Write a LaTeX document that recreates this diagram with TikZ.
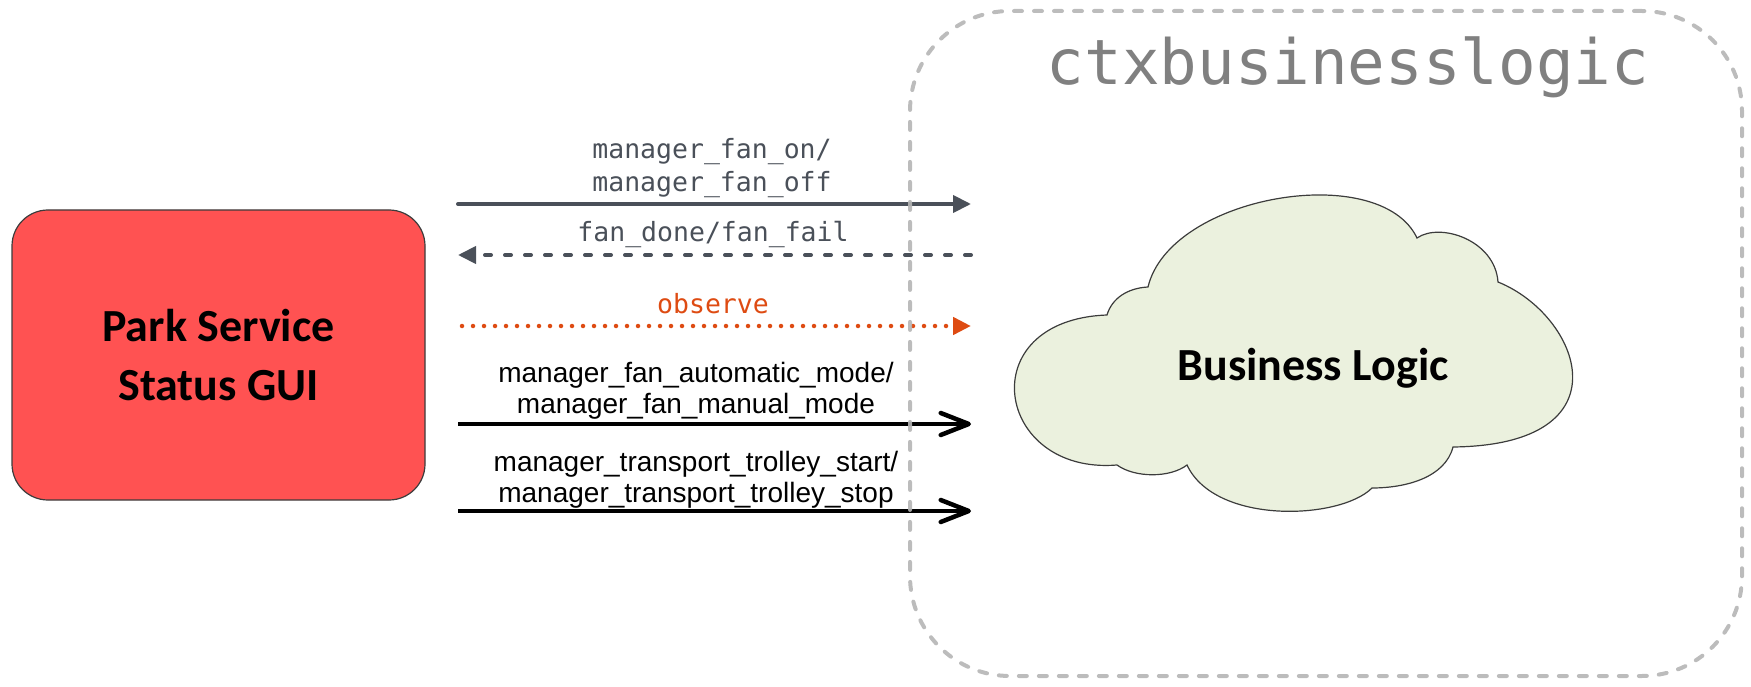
\documentclass[tikz,border=0pt]{standalone}
\usepackage{fontspec}
\setmainfont{Liberation Sans}
\newfontfamily\monofont{DejaVu Sans Mono}
\newfontfamily\calfont{Carlito}
\usetikzlibrary{arrows.meta}
\definecolor{arrgray}{HTML}{4A5059}
\definecolor{obsorange}{HTML}{DE4B12}
\definecolor{guired}{HTML}{FF5252}
\definecolor{cloudgreen}{HTML}{EBF1DE}
\definecolor{ctxgray}{HTML}{B5B5B5}
\definecolor{ctxtext}{HTML}{808080}
\definecolor{edgegray}{HTML}{3C3C3C}
\begin{document}
\begin{tikzpicture}[x=1pt,y=-1pt,
  guibox/.style={draw=edgegray, line width=1.2pt, fill=guired, rounded corners=36pt,
    minimum width=413pt, minimum height=290pt, inner sep=0pt, align=center,
    font=\calfont\bfseries\fontsize{46}{59}\selectfont},
  cloudshape/.style={draw=edgegray, line width=1.2pt, fill=cloudgreen},
  cloudtext/.style={anchor=base, inner sep=0pt, font=\calfont\bfseries\fontsize{46}{55}\selectfont},
  ctxbox/.style={draw=ctxgray, draw opacity=0.9, line width=4pt, dash pattern=on 8pt off 12pt,
    line cap=round, rounded corners=100pt, minimum width=832pt, minimum height=665pt, inner sep=0pt},
  ctxtitle/.style={anchor=base, inner sep=0pt, text=ctxtext, font=\monofont\fontsize{62.5}{70}\selectfont},
  monolabel/.style={align=center, inner sep=0pt, text=arrgray, font=\monofont\fontsize{26.5}{33}\selectfont},
  sanslabel/.style={align=center, inner sep=0pt, text=black, font=\fontsize{28}{31}\selectfont},
  sig/.style={draw=arrgray, line width=4pt, line cap=round, -{Triangle[length=18pt,width=17pt]}},
  reply/.style={draw=arrgray, line width=4pt, line cap=round, dash pattern=on 6pt off 14pt,
    -{Triangle[length=18pt,width=17pt]}},
  obs/.style={draw=obsorange, line width=4.5pt, line cap=round, dash pattern=on 0pt off 11pt,
    -{Triangle[length=18pt,width=17pt]}},
  cmd/.style={draw=black, line width=4.5pt, -{Straight Barb[length=28pt,width=22pt,round]}}
]
\useasboundingbox (0,0) rectangle (1751,687);

% GUI box
\node[guibox] (gui) at (218.5,355) {Park Service\\Status GUI};

% cloud
\draw[cloudshape] (1117,465) .. controls (995,475) and (970,320) .. (1107,315)
  .. controls (1112,298) and (1128,288) .. (1148,287)
  .. controls (1170,195) and (1380,160) .. (1417,238)
  .. controls (1440,222) and (1495,240) .. (1498,282)
  .. controls (1580,315) and (1630,445) .. (1453,447)
  .. controls (1445,478) and (1405,488) .. (1372,488)
  .. controls (1340,520) and (1215,525) .. (1187,465)
  .. controls (1170,478) and (1135,478) .. (1117,465) -- cycle;
\node[cloudtext] (bl) at (1313,380) {Business Logic};

% arrows
\coordinate (a1s) at (458,204); \coordinate (a1e) at (971,204);
\coordinate (a2s) at (971,255); \coordinate (a2e) at (458,255);
\coordinate (a3s) at (462,326); \coordinate (a3e) at (971,326);
\coordinate (a4s) at (458,424); \coordinate (a4e) at (971,424);
\coordinate (a5s) at (458,511); \coordinate (a5e) at (971,511);

\draw[sig] (a1s) -- (a1e);
\draw[reply] (a2s) -- (a2e);
\draw[obs] (a3s) -- (a3e);
\draw[cmd] (a4s) -- (a4e);
\draw[cmd] (a5s) -- (a5e);

\node[monolabel] (l1) at (712,168) {manager\_fan\_on/\\manager\_fan\_off};
\node[monolabel, anchor=base] (l2) at (713,242) {fan\_done/fan\_fail};
\node[monolabel, anchor=base, text=obsorange] (l3) at (713,313) {observe};
\node[sanslabel] (l4) at (696,390.5) {manager\_fan\_automatic\_mode/\\manager\_fan\_manual\_mode};
\node[sanslabel] (l5) at (696,479.5) {manager\_transport\_trolley\_start/\\manager\_transport\_trolley\_stop};

% context boundary
\node[ctxbox] (ctx) at (1326,343.5) {};
\node[ctxtitle] (ctxname) at (1348,85) {ctxbusinesslogic};
\end{tikzpicture}
\end{document}
